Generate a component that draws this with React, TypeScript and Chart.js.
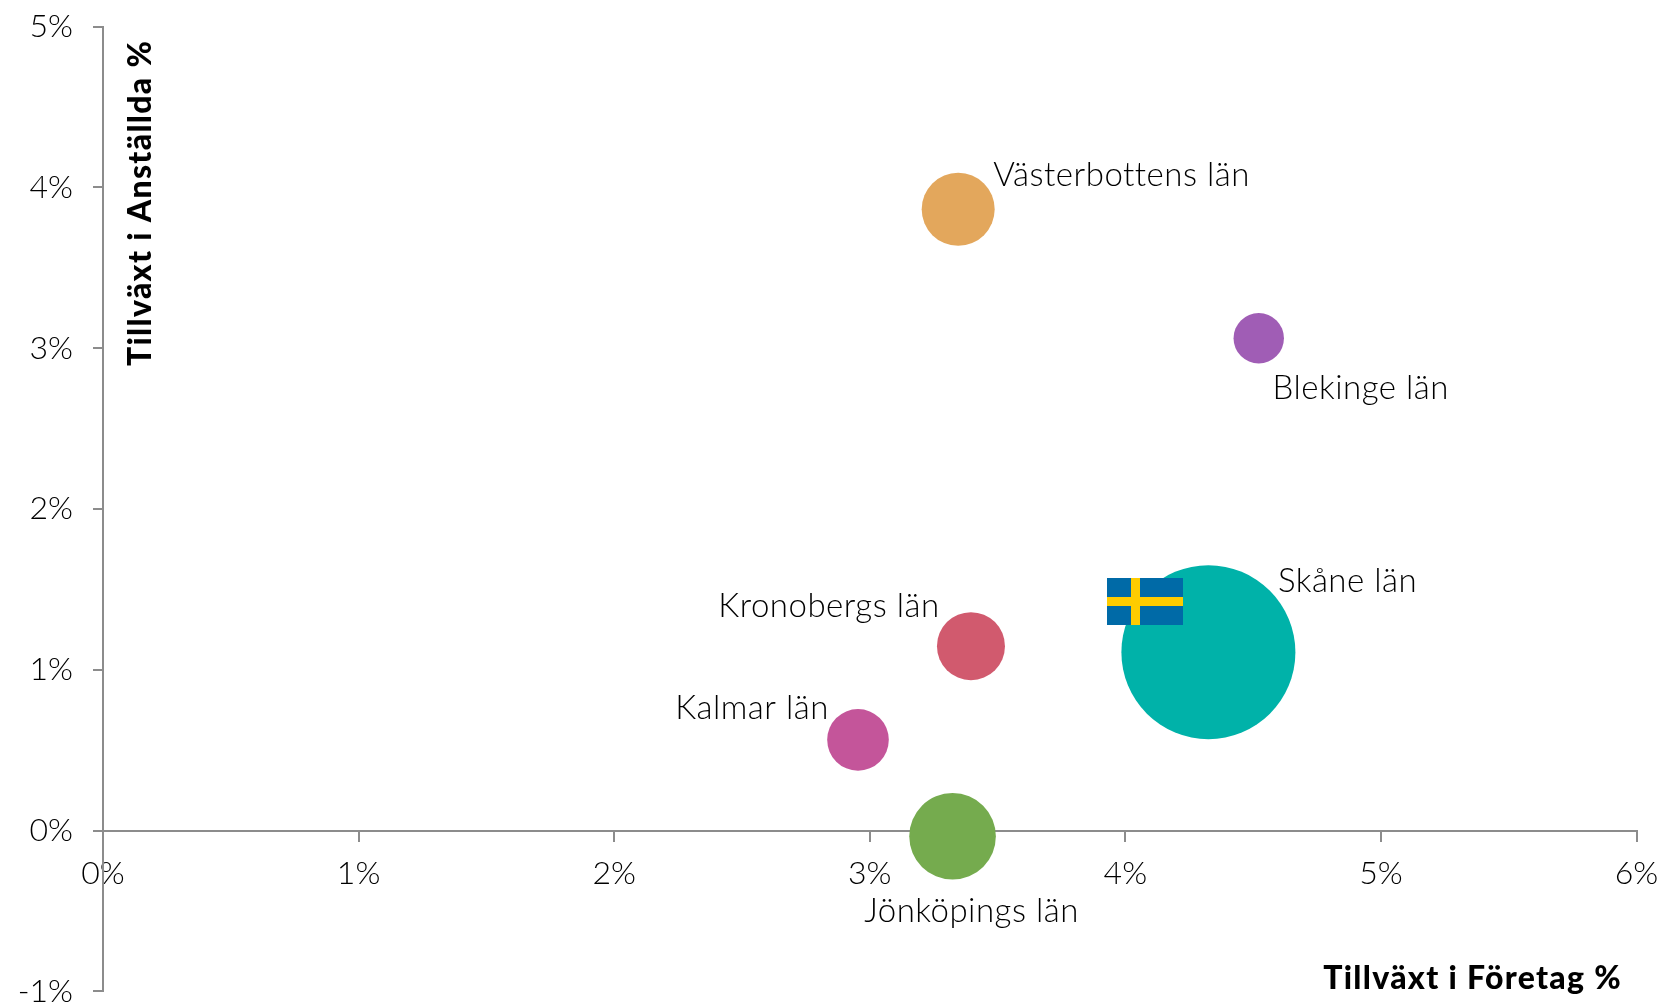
import React, { useEffect, useRef } from "react";
import { Chart, registerables } from "chart.js";

Chart.register(...registerables);

const regions = ["Skåne län", "Västerbottens län", "Blekinge län", "Kronobergs län", "Kalmar län", "Jönköpings län"];
const companyGrowth = [4.325, 3.346, 4.522, 3.396, 2.954, 3.324];
const employeeGrowth = [1.109, 3.864, 3.062, 1.147, 0.564, -0.036];
const bubbleSizes = [87, 36.5, 25.2, 34, 30.8, 43.3];
const bubbleColors = ["#00b2a9", "#e3a75c", "#a05db5", "#d15a6e", "#c4559a", "#75ab4e"];
const labelOffsets = [[69.5, -60], [35, -23], [13.7, 61], [-252.7, -29], [-182.8, -21], [-88.3, 85.5]];
const xTicks = [0, 1, 2, 3, 4, 5, 6];
const yTicks = [-1, 0, 1, 2, 3, 4, 5];

const FONT = "Lato";
const TEXT = "#000000";
const AXIS = "#8c8c8c";

const annotations = {
  id: "annotations",
  afterDatasetsDraw(chart: any) {
    const { ctx } = chart;
    const x = chart.scales.x;
    const y = chart.scales.y;
    ctx.save();
    // flag
    const fx = 1107, fy = 578, fw = 76, fh = 47;
    ctx.fillStyle = "#006aa7";
    ctx.fillRect(fx, fy, fw, fh);
    ctx.fillStyle = "#fecc00";
    ctx.fillRect(fx + 24, fy, 9, fh);
    ctx.fillRect(fx, fy + 19, fw, 9);
    // region labels
    ctx.fillStyle = TEXT;
    ctx.textBaseline = "alphabetic";
    ctx.textAlign = "left";
    ctx.font = `300 33px ${FONT}`;
    ctx.letterSpacing = "0.5px";
    regions.forEach((name, i) => {
      const px = x.getPixelForValue(companyGrowth[i]);
      const py = y.getPixelForValue(employeeGrowth[i]);
      ctx.fillText(name, px + labelOffsets[i][0], py + labelOffsets[i][1]);
    });
    // axis titles
    ctx.font = `900 32px ${FONT}`;
    ctx.letterSpacing = "1.3px";
    ctx.fillStyle = "#000";
    ctx.textAlign = "right";
    ctx.fillText("Tillväxt i Företag %", 1622, 989);
    ctx.textAlign = "left";
    ctx.letterSpacing = "1.3px";
    ctx.translate(151, 366);
    ctx.rotate(-Math.PI / 2);
    ctx.fillText("Tillväxt i Anställda %", 0, 0);
    ctx.restore();
  },
};

export default function App() {
  const ref = useRef<HTMLCanvasElement>(null);
  useEffect(() => {
    document.body.style.margin = "0";
    const chart = new Chart(ref.current!, {
      type: "bubble",
      data: {
        datasets: [
          {
            data: regions.map((_, i) => ({ x: companyGrowth[i], y: employeeGrowth[i], r: bubbleSizes[i] })),
            backgroundColor: bubbleColors,
            borderWidth: 0,
            hoverBorderWidth: 0,
          },
        ],
      },
      options: {
        responsive: false,
        animation: false,
        layout: { autoPadding: false, padding: { left: 0, right: 28.5, top: 26.7, bottom: 12.7 } },
        plugins: { legend: { display: false }, tooltip: { enabled: false } },
        scales: {
          x: {
            type: "linear",
            min: 0,
            max: 6,
            position: { y: 0 },
            afterFit: (s: any) => { s.paddingLeft = 0; s.paddingRight = 0; s.paddingTop = 0; s.paddingBottom = 0; },
            afterBuildTicks: (s: any) => { s.ticks = xTicks.map((value) => ({ value })); },
            border: { color: AXIS, width: 2 },
            grid: { drawOnChartArea: false, drawTicks: true, tickLength: 10, color: AXIS, lineWidth: 2 },
            ticks: {
              padding: 14,
              color: TEXT,
              maxRotation: 0,
              font: { family: FONT, size: 32, weight: "300" },
              callback: (v: any) => `${v}%`,
            },
          },
          y: {
            type: "linear",
            min: -1,
            max: 5,
            position: "left",
            afterFit: (s: any) => { s.width = 103; s.paddingLeft = 0; s.paddingRight = 0; s.paddingTop = 0; s.paddingBottom = 0; },
            afterBuildTicks: (s: any) => { s.ticks = yTicks.map((value) => ({ value })); },
            border: { color: AXIS, width: 2 },
            grid: { drawOnChartArea: false, drawTicks: true, tickLength: 10, color: AXIS, lineWidth: 2 },
            ticks: {
              padding: 20,
              color: TEXT,
              font: { family: FONT, size: 32, weight: "300" },
              callback: (v: any) => `${v}%`,
            },
          },
        },
      },
      plugins: [annotations],
    } as any);
    return () => chart.destroy();
  }, []);
  return <canvas ref={ref} width={1665} height={1004} style={{ display: "block" }} />;
}
